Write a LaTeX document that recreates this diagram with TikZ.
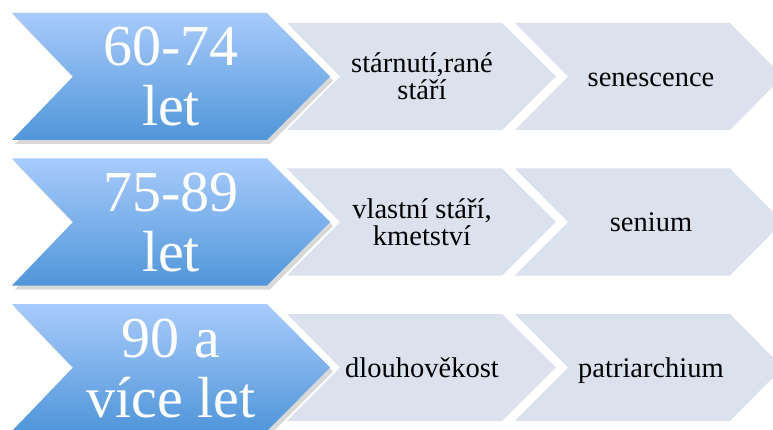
\documentclass[tikz,border=0pt]{standalone}
\usepackage{fontspec}
\setmainfont{Liberation Serif}
\usetikzlibrary{shadows}
\definecolor{agetop}{RGB}{168,203,252}
\definecolor{agebottom}{RGB}{80,150,217}
\definecolor{stagefill}{RGB}{220,225,238}
\begin{document}
\begin{tikzpicture}[x=1pt, y=-1pt,
  age/.style={top color=agetop, bottom color=agebottom, line join=miter,
    preaction={draw=white, line width=14pt},
    drop shadow={shadow xshift=3pt, shadow yshift=-4pt, opacity=.3}},
  stage/.style={fill=stagefill},
  agetext/.style={text=white, align=center, inner sep=0pt, font=\fontsize{58}{60}\selectfont},
  stagetext/.style={align=center, inner sep=0pt, font=\fontsize{28.5}{27}\selectfont}]
\useasboundingbox (0,0) rectangle (773,430);

\path[stage] (287,23) -- (502,23) -- (556,76.5) -- (502,130) -- (287,130) -- cycle;
\path[stage] (515,23) -- (730,23) -- (783,76.5) -- (730,130) -- (515,130) -- (568,76.5) -- cycle;
\path[age] (12,13) -- (267,13) -- (330,76.5) -- (267,140) -- (12,140) -- (73,76.5) -- cycle;
\node (age1) [agetext] at (171,76.5) {60-74\\let};
\node (first1) [stagetext] at (422,76) {stárnutí,rané\\stáří};
\node (second1) [stagetext, anchor=base] at (651,87) {senescence};

\path[stage] (287,168.5) -- (502,168.5) -- (556,222) -- (502,275.5) -- (287,275.5) -- cycle;
\path[stage] (515,168.5) -- (730,168.5) -- (783,222) -- (730,275.5) -- (515,275.5) -- (568,222) -- cycle;
\path[age] (12,158.5) -- (267,158.5) -- (330,222) -- (267,285.5) -- (12,285.5) -- (73,222) -- cycle;
\node (age2) [agetext] at (171,222) {75-89\\let};
\node (first2) [stagetext] at (422,222) {vlastní stáří,\\kmetství};
\node (second2) [stagetext, anchor=base] at (651,232) {senium};

\path[stage] (287,314) -- (502,314) -- (556,367.5) -- (502,421) -- (287,421) -- cycle;
\path[stage] (515,314) -- (730,314) -- (783,367.5) -- (730,421) -- (515,421) -- (568,367.5) -- cycle;
\path[age] (12,304) -- (267,304) -- (330,367.5) -- (267,431) -- (12,431) -- (73,367.5) -- cycle;
\node (age3) [agetext] at (171,368) {90 a\\více let};
\node (first3) [stagetext, anchor=base] at (422,377) {dlouhověkost};
\node (second3) [stagetext, anchor=base] at (651,377) {patriarchium};
\end{tikzpicture}
\end{document}
